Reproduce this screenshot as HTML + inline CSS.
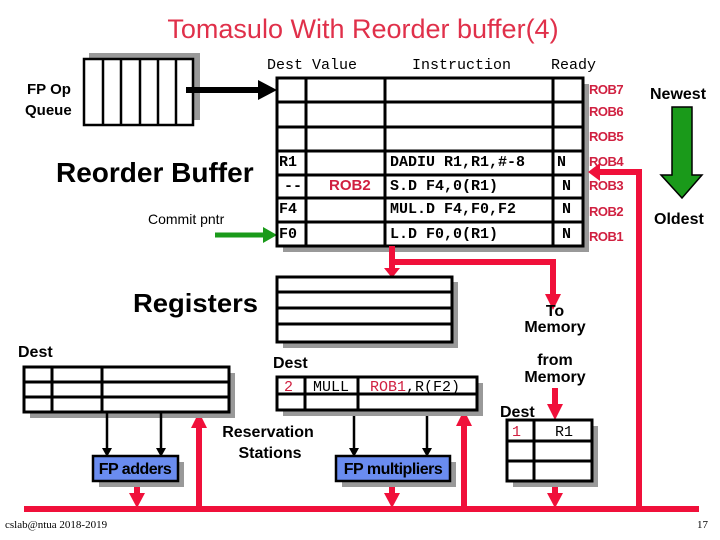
<!DOCTYPE html>
<html><head><style>body{margin:0;background:#fff}svg{display:block}</style></head><body>
<svg width="720" height="540" viewBox="0 0 720 540" xmlns="http://www.w3.org/2000/svg" font-family="Liberation Sans, sans-serif">
<rect width="720" height="540" fill="#fff"/>
<text x="363" y="38" font-size="27" fill="#e0304a" text-anchor="middle">Tomasulo With Reorder buffer(4)</text>
<rect x="89" y="53" width="111" height="67" fill="#999"/>
<rect x="84" y="59" width="109" height="66" fill="#fff" stroke="#000" stroke-width="2.5"/>
<g stroke="#000" stroke-width="2.5"><line x1="103" y1="59" x2="103" y2="125"/><line x1="121" y1="59" x2="121" y2="125"/><line x1="140" y1="59" x2="140" y2="125"/><line x1="158" y1="59" x2="158" y2="125"/><line x1="176" y1="59" x2="176" y2="125"/></g>
<line x1="186" y1="90" x2="262" y2="90" stroke="#000" stroke-width="6"/>
<polygon points="258,80 277,90 258,100" fill="#000"/>
<g font-weight="bold" font-size="15"><text x="27" y="94">FP Op</text><text x="25" y="115">Queue</text></g>
<text x="56" y="182" font-size="28" font-weight="bold">Reorder Buffer</text>
<text x="148" y="224" font-size="14">Commit pntr</text>
<line x1="215" y1="235" x2="266" y2="235" stroke="#1a9a1a" stroke-width="5"/>
<polygon points="263,227 277,235 263,243" fill="#1a9a1a"/>
<g font-family="Liberation Mono, monospace" font-size="15"><text x="267" y="69">Dest Value</text><text x="412" y="69">Instruction</text><text x="551" y="69">Ready</text></g>
<rect x="283" y="84" width="306" height="168" fill="#999"/>
<rect x="277" y="78" width="306" height="168" fill="#fff" stroke="#000" stroke-width="3"/>
<g stroke="#000" stroke-width="3">
<line x1="277" y1="102" x2="583" y2="102"/><line x1="277" y1="127" x2="583" y2="127"/><line x1="277" y1="151" x2="583" y2="151"/><line x1="277" y1="175" x2="583" y2="175"/><line x1="277" y1="198" x2="583" y2="198"/><line x1="277" y1="222" x2="583" y2="222"/>
<line x1="306" y1="78" x2="306" y2="246"/><line x1="385" y1="78" x2="385" y2="246"/><line x1="553" y1="78" x2="553" y2="246"/></g>
<g font-family="Liberation Mono, monospace" font-size="15" font-weight="bold">
<text x="279" y="166">R1</text><text x="284" y="190">--</text><text x="279" y="213">F4</text><text x="279" y="238">F0</text>
<text x="390" y="166">DADIU R1,R1,#-8</text><text x="390" y="190">S.D F4,0(R1)</text><text x="390" y="213">MUL.D F4,F0,F2</text><text x="390" y="238">L.D F0,0(R1)</text>
<text x="557" y="166">N</text><text x="562" y="190">N</text><text x="562" y="213">N</text><text x="562" y="238">N</text></g>
<text x="329" y="190" font-size="15" fill="#d02040" font-weight="bold">ROB2</text>
<g font-size="13" font-weight="bold" fill="#d02040" letter-spacing="-0.5">
<text x="589" y="94">ROB7</text><text x="589" y="116">ROB6</text><text x="589" y="141">ROB5</text><text x="589" y="166">ROB4</text><text x="589" y="190">ROB3</text><text x="589" y="216">ROB2</text><text x="589" y="241">ROB1</text></g>
<text x="650" y="99" font-size="16" font-weight="bold">Newest</text>
<text x="654" y="224" font-size="16" font-weight="bold">Oldest</text>
<polygon points="672,107 692,107 692,175 702,175 682,198 661,175 672,175" fill="#1a9a1a" stroke="#000" stroke-width="1.5"/>
<g stroke="#f0103a" stroke-width="6" fill="none">
<polyline points="392,246 392,262 553,262 553,296"/>
<line x1="392" y1="262" x2="392" y2="270"/>
<polyline points="599,172 639,172 639,509"/>
<line x1="24" y1="509" x2="699" y2="509"/>
<line x1="199" y1="509" x2="199" y2="426"/>
<line x1="464" y1="509" x2="464" y2="424"/>
<line x1="137" y1="481" x2="137" y2="495"/>
<line x1="392" y1="481" x2="392" y2="495"/>
<line x1="555" y1="481" x2="555" y2="495"/>
<line x1="555" y1="388" x2="555" y2="406"/>
</g>
<g fill="#f0103a">
<polygon points="384,268 400,268 392,278"/>
<polygon points="545,294 561,294 553,310"/>
<polygon points="600,163 600,181 588,172"/>
<polygon points="191,428 207,428 199,412"/>
<polygon points="456,426 472,426 464,410"/>
<polygon points="129,493 145,493 137,508"/>
<polygon points="384,493 400,493 392,508"/>
<polygon points="547,493 563,493 555,508"/>
<polygon points="547,404 563,404 555,420"/>
</g>
<text x="133" y="312" font-size="26" font-weight="bold" textLength="125" lengthAdjust="spacingAndGlyphs">Registers</text>
<rect x="283" y="282" width="175" height="66" fill="#999"/>
<rect x="277" y="277" width="175" height="65" fill="#fff" stroke="#000" stroke-width="3"/>
<g stroke="#000" stroke-width="3"><line x1="277" y1="292" x2="452" y2="292"/><line x1="277" y1="308" x2="452" y2="308"/><line x1="277" y1="324" x2="452" y2="324"/></g>
<g font-size="16" font-weight="bold" text-anchor="middle"><text x="555" y="316">To</text><text x="555" y="332">Memory</text><text x="555" y="365">from</text><text x="555" y="382">Memory</text></g>
<text x="18" y="357" font-size="16" font-weight="bold">Dest</text>
<rect x="30" y="373" width="205" height="45" fill="#999"/>
<rect x="24" y="367" width="205" height="45" fill="#fff" stroke="#000" stroke-width="3"/>
<g stroke="#000" stroke-width="3"><line x1="24" y1="382" x2="229" y2="382"/><line x1="24" y1="397" x2="229" y2="397"/><line x1="52" y1="367" x2="52" y2="412"/><line x1="102" y1="367" x2="102" y2="412"/></g>
<g stroke="#000" stroke-width="2.5"><line x1="107" y1="412" x2="107" y2="450"/><line x1="161" y1="412" x2="161" y2="450"/><line x1="354" y1="410" x2="354" y2="450"/><line x1="427" y1="410" x2="427" y2="450"/></g>
<g fill="#000"><polygon points="102,448 112,448 107,457"/><polygon points="156,448 166,448 161,457"/><polygon points="349,448 359,448 354,457"/><polygon points="422,448 432,448 427,457"/></g>
<rect x="99" y="462" width="85" height="25" fill="#999"/>
<rect x="93" y="456" width="85" height="25" fill="#6a8cf0" stroke="#000" stroke-width="2.5"/>
<text x="135" y="474" font-size="16" font-weight="bold" text-anchor="middle" letter-spacing="-0.5">FP adders</text>
<rect x="342" y="462" width="114" height="25" fill="#999"/>
<rect x="336" y="456" width="114" height="25" fill="#6a8cf0" stroke="#000" stroke-width="2.5"/>
<text x="393" y="474" font-size="16" font-weight="bold" text-anchor="middle" letter-spacing="-0.5">FP multipliers</text>
<g font-size="16" font-weight="bold" text-anchor="middle"><text x="268" y="437">Reservation</text><text x="270" y="458">Stations</text></g>
<text x="273" y="368" font-size="16" font-weight="bold">Dest</text>
<rect x="283" y="383" width="200" height="33" fill="#999"/>
<rect x="277" y="377" width="200" height="33" fill="#fff" stroke="#000" stroke-width="3"/>
<g stroke="#000" stroke-width="3"><line x1="277" y1="394" x2="477" y2="394"/><line x1="305" y1="377" x2="305" y2="410"/><line x1="358" y1="377" x2="358" y2="410"/></g>
<g font-family="Liberation Mono, monospace" font-size="15"><text x="284" y="391" fill="#d02040">2</text><text x="313" y="391">MULL</text><text x="370" y="391"><tspan fill="#d02040">ROB1</tspan>,R(F2)</text></g>
<text x="500" y="417" font-size="16" font-weight="bold">Dest</text>
<rect x="513" y="426" width="85" height="61" fill="#999"/>
<rect x="507" y="420" width="85" height="61" fill="#fff" stroke="#000" stroke-width="3"/>
<g stroke="#000" stroke-width="3"><line x1="507" y1="441" x2="592" y2="441"/><line x1="507" y1="461" x2="592" y2="461"/><line x1="534" y1="420" x2="534" y2="481"/></g>
<g font-family="Liberation Mono, monospace" font-size="15"><text x="512" y="436" fill="#d02040">1</text><text x="555" y="436">R1</text></g>
<text x="5" y="528" font-size="11" font-family="Liberation Serif, serif">cslab@ntua 2018-2019</text>
<text x="697" y="528" font-size="11" font-family="Liberation Serif, serif">17</text>
</svg>
</body></html>
